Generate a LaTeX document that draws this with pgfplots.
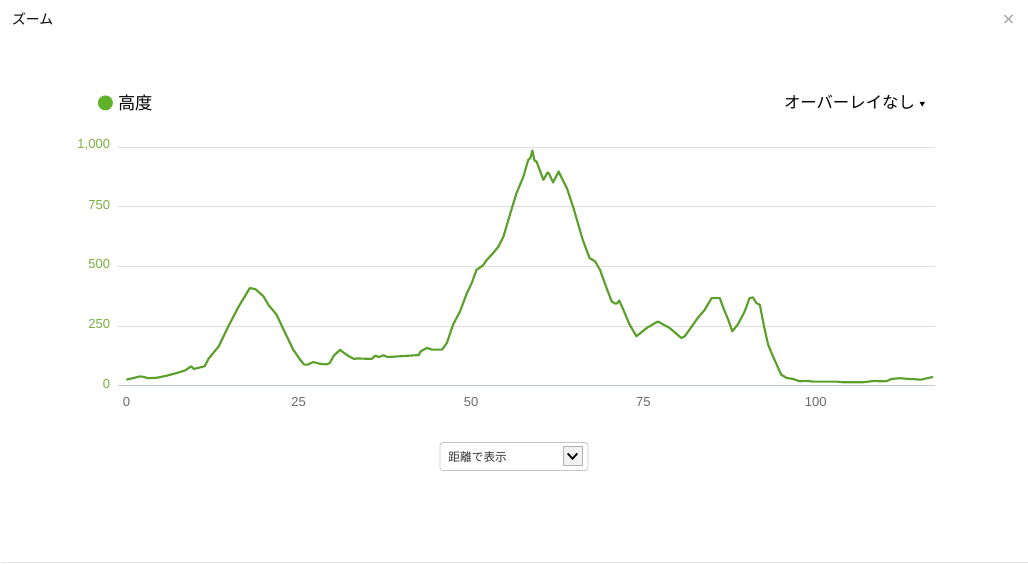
\documentclass[border=0pt]{standalone}
\usepackage{pgfplots}
\pgfplotsset{compat=1.18}
\usepackage{fontspec}
\setmainfont{Liberation Sans}
\newfontfamily\cjk{Noto Sans CJK JP}
\definecolor{linegreen}{RGB}{90,160,42}
\definecolor{dotgreen}{RGB}{96,178,40}
\definecolor{ticklab}{RGB}{122,176,64}
\definecolor{gridc}{RGB}{222,222,222}
\definecolor{axisc}{RGB}{192,200,210}
\begin{document}
\begin{tikzpicture}
\path[fill=white] (0,0) rectangle (771pt,423pt);
\draw[color=gray!20,line width=0.75pt] (0,0.4pt) -- (771pt,0.4pt);
% title and close
\node[anchor=west,inner sep=0pt,font=\cjk\fontsize{10.4}{12}\selectfont] at (8.5pt,408.75pt) {ズーム};
\draw[color=gray!70,line width=0.9pt] (753.75pt,405.75pt) -- (759.75pt,411.75pt);
\draw[color=gray!70,line width=0.9pt] (753.75pt,411.75pt) -- (759.75pt,405.75pt);
% legend
\fill[dotgreen] (78.75pt,345.75pt) circle (5.6pt);
\node[anchor=west,inner sep=0pt,font=\cjk\fontsize{13}{15}\selectfont] at (88.5pt,345.75pt) {高度};
\node[anchor=west,inner sep=0pt,font=\cjk\fontsize{12.3}{14}\selectfont] at (588pt,346.5pt) {オーバーレイなし};
\fill[black] (690pt,346.5pt) -- (694pt,346.5pt) -- (692pt,343pt) -- cycle;
% dropdown
\draw[color=gray!45,line width=0.6pt,rounded corners=2pt,fill=white] (330pt,69.75pt) rectangle (441pt,90.75pt);
\node[anchor=west,inner sep=0pt,font=\cjk\fontsize{8.8}{10}\selectfont,text=black!80] at (336pt,80.25pt) {距離で表示};
\draw[color=gray!60,line width=0.6pt,fill=gray!10] (422.25pt,73.5pt) rectangle (436.5pt,87.75pt);
\draw[color=black,line width=1.3pt] (425.8pt,82.6pt) -- (429.4pt,78.6pt) -- (433pt,82.6pt);
\begin{axis}[
  at={(88.5pt,133.5pt)}, anchor=south west,
  scale only axis, width=612.75pt, height=179pt,
  xmin=-1.16, xmax=117.25, ymin=0, ymax=1000,
  axis x line*=bottom, axis y line*=left,
  x axis line style={color=axisc,line width=0.8pt,-},
  y axis line style={draw=none},
  xtick={0,25,50,75,100}, ytick={0,250,500,750,1000},
  yticklabels={0,250,500,750,{1,000}},
  major tick length=0pt,
  ymajorgrids, grid style={color=gridc,line width=0.7pt},
  /pgf/number format/assume math mode=true,
  xticklabel style={font=\fontsize{9.8}{11}\selectfont,text=gray!85!black,anchor=north,inner sep=0pt,yshift=-8.5pt},
  yticklabel style={font=\fontsize{9.8}{11}\selectfont,text=ticklab,anchor=east,inner sep=0pt,xshift=-6pt,yshift=1.5pt},
  clip=false,
]
\addplot[color=linegreen,line width=1.6pt,line join=round,no marks] coordinates {
(0,25) (1.06,32) (2,39) (2.6,36) (3.1,31) (4.4,33) (5.9,42) (7.3,53) (8.55,64)
(9.4,81) (9.8,70) (11.35,81) (11.9,112) (13.4,165) (14.8,249) (16.3,332) (17.9,409)
(18.7,405) (19.9,374) (20.6,339) (21.8,297) (22.8,235) (24.2,151) (25.2,109) (25.8,88)
(26.3,88) (27.1,99) (28.0,92) (29.1,89) (29.5,95) (30.1,126) (31.0,150) (32.0,128)
(33.0,112) (33.4,114) (35.6,112) (36.1,126) (36.6,120) (37.3,127) (37.9,120) (39.7,123)
(41.2,126) (42.4,128) (42.7,144) (43.6,158) (44.3,151) (45.8,151) (46.5,179) (47.4,256)
(48.4,311) (49.4,388) (50.1,430) (50.8,486) (51.7,503) (52.3,528) (53.0,549) (54.0,584)
(54.7,625) (55.7,723) (56.6,807) (57.6,877) (58.3,947) (58.6,954) (58.9,986) (59.2,944)
(59.5,940) (60.5,863) (61.1,894) (61.3,890) (61.9,852) (62.7,898) (63.9,828) (64.8,751)
(66.2,612) (67.2,535) (68.0,521) (68.7,486) (69.4,430) (70.4,353) (70.9,344) (71.2,345)
(71.5,357) (72.1,318) (73.0,256) (74.0,207) (75.5,242) (77.1,269) (77.9,256) (78.8,242)
(80.5,200) (81.0,207) (81.7,235) (82.9,284) (83.9,318) (84.9,367) (86.1,367) (86.6,326)
(87.3,277) (87.9,228) (88.7,256) (89.7,311) (90.4,367) (90.9,370) (91.4,346) (91.9,339)
(92.5,249) (93.1,172) (93.8,123) (95.0,46) (95.8,32) (96.7,28) (97.7,18) (98.6,20)
(99.6,17) (103.0,17) (104.0,14) (106.9,14) (108.3,19) (110.2,18) (111.0,28) (112.2,31)
(113.6,28) (115.3,25) (116.3,32) (117.0,36)
};
\end{axis}
\end{tikzpicture}
\end{document}
